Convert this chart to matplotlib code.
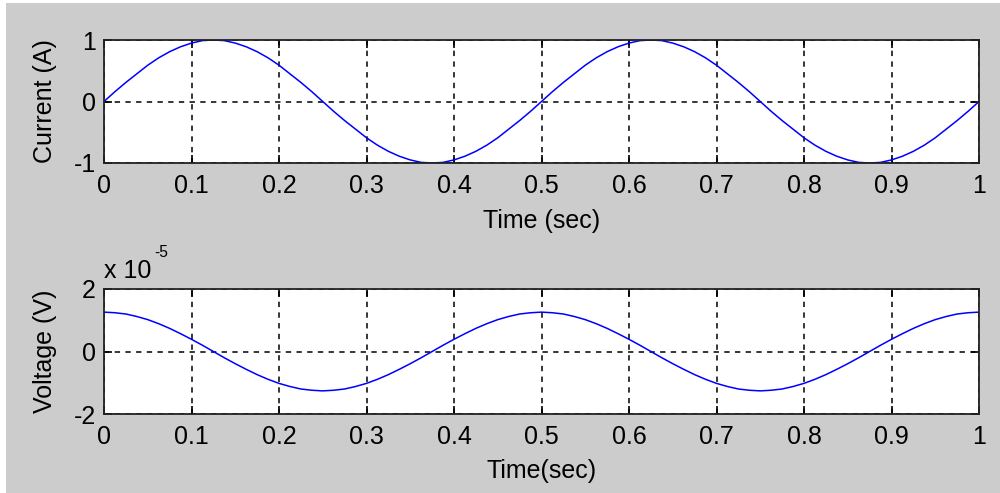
import numpy as np
import matplotlib
matplotlib.use("Agg")
import matplotlib.pyplot as plt
from matplotlib.patches import Rectangle

plt.rcParams['font.family'] = ['Liberation Sans', 'DejaVu Sans']
plt.rcParams['axes.unicode_minus'] = False

# sample times (sec)
time = np.linspace(0.0, 1.0, 81)

# current (A)
current = [0.00, 0.16, 0.31, 0.45, 0.59, 0.71, 0.81, 0.89, 0.95, 0.99,
           1.00, 0.99, 0.95, 0.89, 0.81, 0.71, 0.59, 0.45, 0.31, 0.16,
           0.00, -0.16, -0.31, -0.45, -0.59, -0.71, -0.81, -0.89, -0.95, -0.99,
           -1.00, -0.99, -0.95, -0.89, -0.81, -0.71, -0.59, -0.45, -0.31, -0.16,
           0.00, 0.16, 0.31, 0.45, 0.59, 0.71, 0.81, 0.89, 0.95, 0.99,
           1.00, 0.99, 0.95, 0.89, 0.81, 0.71, 0.59, 0.45, 0.31, 0.16,
           0.00, -0.16, -0.31, -0.45, -0.59, -0.71, -0.81, -0.89, -0.95, -0.99,
           -1.00, -0.99, -0.95, -0.89, -0.81, -0.71, -0.59, -0.45, -0.31, -0.16,
           0.00]

# voltage (V)
voltage = [1.26e-5, 1.24e-5, 1.20e-5, 1.12e-5, 1.02e-5, 0.89e-5, 0.74e-5, 0.57e-5, 0.39e-5, 0.20e-5,
           0.00, -0.20e-5, -0.39e-5, -0.57e-5, -0.74e-5, -0.89e-5, -1.02e-5, -1.12e-5, -1.20e-5, -1.24e-5,
           -1.26e-5, -1.24e-5, -1.20e-5, -1.12e-5, -1.02e-5, -0.89e-5, -0.74e-5, -0.57e-5, -0.39e-5, -0.20e-5,
           0.00, 0.20e-5, 0.39e-5, 0.57e-5, 0.74e-5, 0.89e-5, 1.02e-5, 1.12e-5, 1.20e-5, 1.24e-5,
           1.26e-5, 1.24e-5, 1.20e-5, 1.12e-5, 1.02e-5, 0.89e-5, 0.74e-5, 0.57e-5, 0.39e-5, 0.20e-5,
           0.00, -0.20e-5, -0.39e-5, -0.57e-5, -0.74e-5, -0.89e-5, -1.02e-5, -1.12e-5, -1.20e-5, -1.24e-5,
           -1.26e-5, -1.24e-5, -1.20e-5, -1.12e-5, -1.02e-5, -0.89e-5, -0.74e-5, -0.57e-5, -0.39e-5, -0.20e-5,
           0.00, 0.20e-5, 0.39e-5, 0.57e-5, 0.74e-5, 0.89e-5, 1.02e-5, 1.12e-5, 1.20e-5, 1.24e-5,
           1.26e-5]

x_ticks = [0, 0.1, 0.2, 0.3, 0.4, 0.5, 0.6, 0.7, 0.8, 0.9, 1]
x_tick_labels = ['0', '0.1', '0.2', '0.3', '0.4', '0.5', '0.6', '0.7', '0.8', '0.9', '1']
cur_ticks = [-1, 0, 1]
volt_ticks = [-2e-5, 0, 2e-5]
volt_tick_labels = ['-2', '0', '2']

FS = 18
W, H = 1000, 493
fig = plt.figure(figsize=(W / 100, H / 100), dpi=100, facecolor='white')
fig.patches.append(Rectangle((6 / W, 0), 1 - 6 / W, 1 - 3 / H, transform=fig.transFigure,
                             facecolor='#cccccc', edgecolor='none', zorder=-10))

def px_axes(l, t, r, b):
    return fig.add_axes([l / W, 1 - b / H, (r - l) / W, (b - t) / H])

ax1 = px_axes(104, 40, 979, 163)
ax2 = px_axes(104, 289, 979, 414)

for ax in (ax1, ax2):
    ax.set_facecolor('white')
    ax.set_xlim(0, 1)
    ax.set_xticks(x_ticks)
    ax.set_xticklabels(x_tick_labels)
    ax.grid(True, color='black', linestyle=(0, (3.5, 3.5)), linewidth=1.1)
    ax.tick_params(direction='in', length=6, width=1.2, labelsize=FS, top=True, right=True,
                   colors='black')
    ax.tick_params(axis='x', pad=8)
    ax.tick_params(axis='y', pad=6)
    for s in ax.spines.values():
        s.set_linewidth(1.3)
        s.set_color('#222222')

ax1.plot(time, current, color='#0000ff', linewidth=1.1)
ax1.set_ylim(-1, 1)
ax1.set_yticks(cur_ticks)
ax1.set_ylabel('Current (A)', fontsize=FS, labelpad=12)
ax1.set_xlabel('Time (sec)', fontsize=FS, labelpad=8)

ax2.plot(time, voltage, color='#0000ff', linewidth=1.1)
ax2.set_ylim(-2e-5, 2e-5)
ax2.set_yticks(volt_ticks)
ax2.set_yticklabels(volt_tick_labels)
ax2.set_ylabel('Voltage (V)', fontsize=FS, labelpad=12)
ax2.set_xlabel('Time(sec)', fontsize=FS, labelpad=7)
ax2.text(0.0, 1.05, 'x 10', transform=ax2.transAxes, fontsize=FS,
         ha='left', va='bottom')
ax2.text(0.057, 1.23, '-5', transform=ax2.transAxes, fontsize=FS * 0.62,
         ha='left', va='bottom')

fig.savefig('out.png', dpi=100, facecolor=fig.get_facecolor())
